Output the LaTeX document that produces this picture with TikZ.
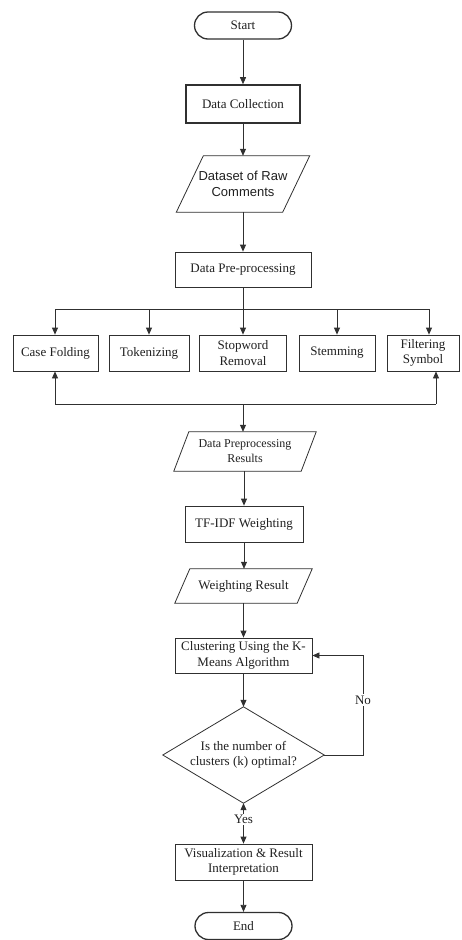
\documentclass[tikz,border=0pt]{standalone}
\usepackage{fontspec}
\setmainfont{Liberation Serif}
\setsansfont{Liberation Sans}
\usetikzlibrary{arrows.meta}
\newcommand\myfs{\fontsize{13}{15.5}\selectfont}
\newcommand\mysmfs{\fontsize{12}{15}\selectfont}
\definecolor{linec}{HTML}{303030}
\definecolor{txt}{HTML}{202020}
\begin{document}
\begin{tikzpicture}[x=1pt,y=-1pt,
  box/.style={draw=linec, line width=0.8pt, fill=white, inner sep=0pt, align=center, font=\myfs, text=txt},
  term/.style={box, rounded corners=13.5pt, line width=1.3pt, minimum width=97pt, minimum height=27pt},
  iobox/.style={inner sep=0pt, align=center, font=\myfs, text=txt},
  lnk/.style={draw=linec, line width=0.8pt},
  tip/.tip={Triangle[length=7pt,width=6pt]},
  arr/.style={lnk, -tip},
  lbl/.style={fill=white, inner sep=1.5pt, font=\myfs, text=txt}
]
\useasboundingbox (0,0) rectangle (461,940);

% main column
\node[term] (start) at (243,25.5) {Start};
\node[box, line width=1.6pt, minimum width=114pt, minimum height=38pt] (dc) at (243,104) {Data Collection};
\node[iobox, minimum width=133pt, minimum height=56pt] (ds) at (243,184) {\sffamily Dataset of Raw\\\sffamily Comments};
\draw[lnk] ([xshift=27pt]ds.north west) -- (ds.north east) -- ([xshift=-27pt]ds.south east) -- (ds.south west) -- cycle;
\node[box, minimum width=136pt, minimum height=35pt] (dp) at (243,269.5) {Data Pre-processing};

% preprocessing steps
\node[box, minimum width=85pt, minimum height=36pt] (cf) at (55.5,353) {Case Folding};
\node[box, minimum width=80pt, minimum height=36pt] (tk) at (149,353) {Tokenizing};
\node[box, minimum width=87pt, minimum height=36pt] (sw) at (243,353) {Stopword\\Removal};
\node[box, minimum width=76pt, minimum height=36pt] (st) at (337,353) {Stemming};
\node[box, minimum width=72pt, minimum height=36pt] (fs) at (423,353) {Filtering\\Symbol};

\node[iobox, font=\mysmfs, minimum width=142pt, minimum height=39pt] (dpr) at (245,451.5) {Data Preprocessing\\Results};
\draw[lnk] ([xshift=15pt]dpr.north west) -- (dpr.north east) -- ([xshift=-15pt]dpr.south east) -- (dpr.south west) -- cycle;
\node[box, minimum width=118pt, minimum height=36pt] (tf) at (244,524) {TF-IDF Weighting};
\node[iobox, minimum width=137pt, minimum height=34pt] (wr) at (243.5,586) {Weighting Result};
\draw[lnk] ([xshift=15pt]wr.north west) -- (wr.north east) -- ([xshift=-15pt]wr.south east) -- (wr.south west) -- cycle;
\node[box, minimum width=137pt, minimum height=35pt] (cl) at (243.5,655.5) {Clustering Using the K-\\Means Algorithm};
\node[iobox, minimum width=161pt, minimum height=96pt] (dm) at (243.5,755) {Is the number of\\clusters (k) optimal?};
\draw[lnk] (dm.north) -- (dm.east) -- (dm.south) -- (dm.west) -- cycle;
\node[box, minimum width=137pt, minimum height=36pt] (vis) at (243.5,862) {Visualization \& Result\\Interpretation};
\node[term] (end) at (243.5,926) {End};

% connectors
\draw[arr] (start) -- (dc);
\draw[arr] (dc) -- (ds);
\draw[arr] (ds) -- (dp);

\coordinate (bl) at (55,309);
\coordinate (br) at (429,309);
\draw[lnk] (bl) -- (br);
\draw[arr] (dp.south) -- (dp.south |- sw.north);
\draw[arr] (bl) -- (bl |- cf.north);
\draw[arr] (tk.north |- bl) -- (tk.north);
\draw[arr] (st.north |- bl) -- (st.north);
\draw[arr] (br) -- (br |- fs.north);

\coordinate (rl) at (55,404);
\coordinate (rr) at (436,404);
\coordinate (rm) at (243,404);
\draw[lnk] (rl) -- (rr);
\draw[arr] (rl) -- (rl |- cf.south);
\draw[arr] (rr) -- (rr |- fs.south);
\draw[arr] (rm) -- (rm |- dpr.north);

\draw[arr] (dpr.south -| tf.north) -- (tf.north);
\draw[arr] (tf.south) -- (tf.south |- wr.north);
\draw[arr] (wr.south) -- (cl.north);
\draw[arr] (cl.south) -- (dm.north);

\coordinate (lr) at (363,755);
\draw[arr] (dm.east) -- (lr) -- (lr |- cl.east) -- (cl.east);
\node[lbl] (no) at (363,700) {No};

\draw[lnk, tip-tip] (dm.south) -- (vis.north) node[lbl, pos=0.4] (yes) {Yes};
\draw[arr] (vis.south) -- (end.north);
\end{tikzpicture}
\end{document}
